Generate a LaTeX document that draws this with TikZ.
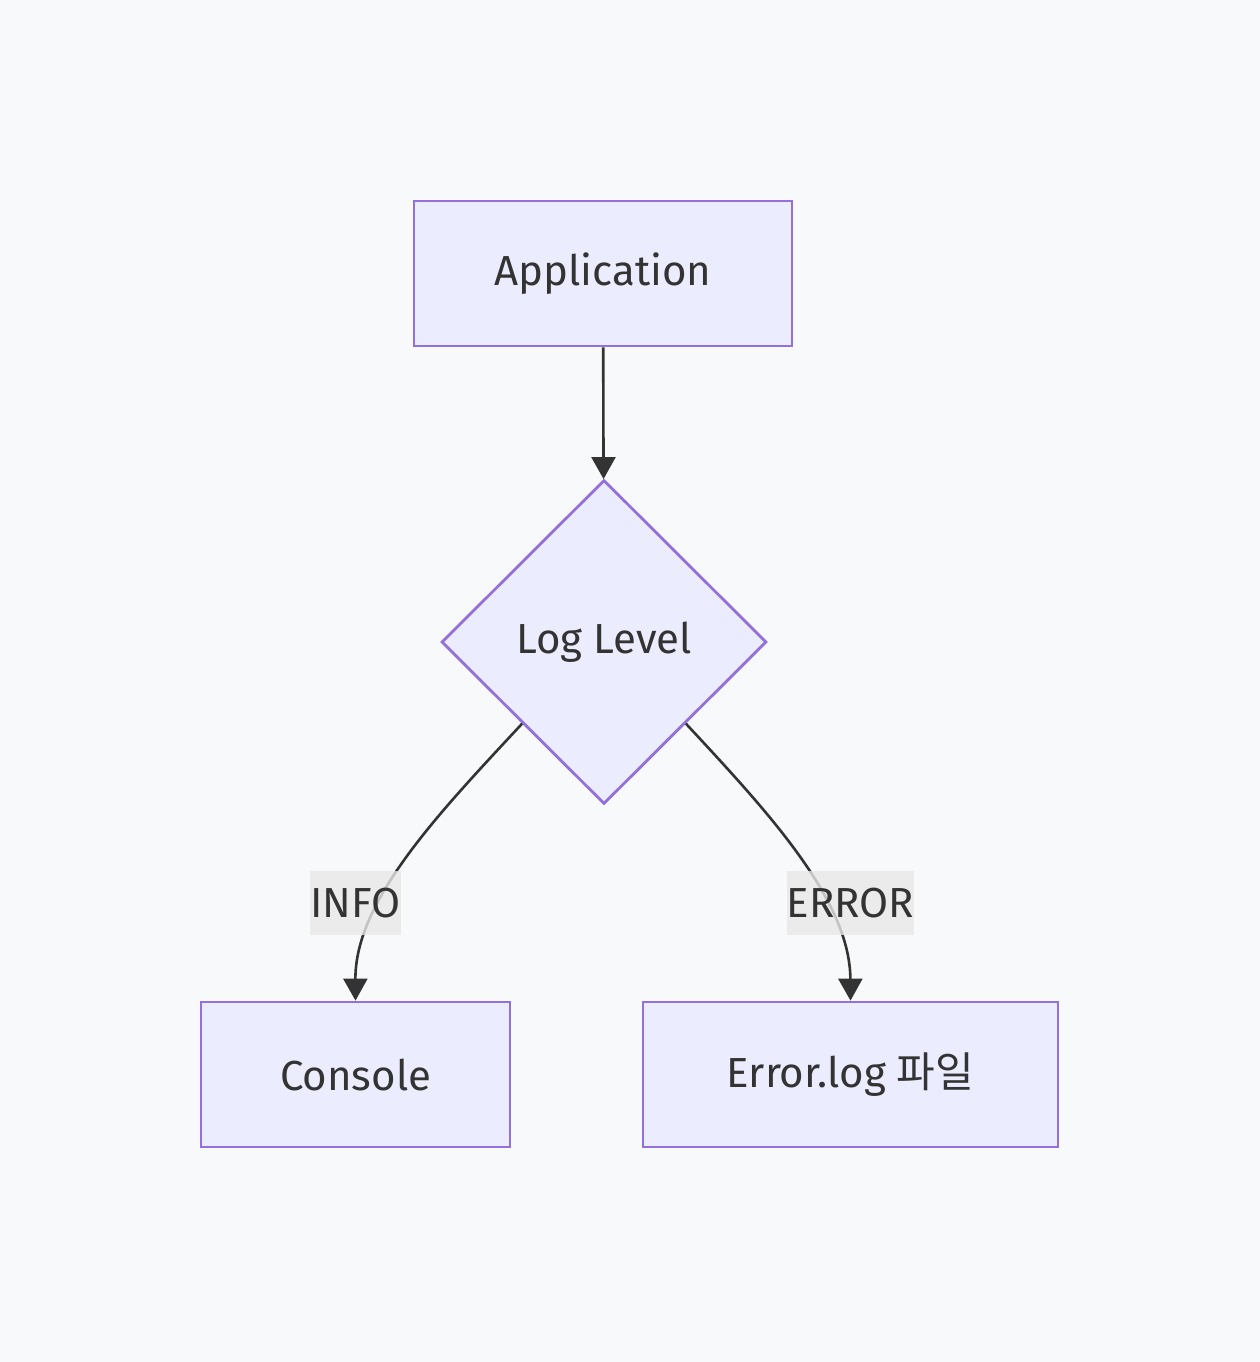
\documentclass[tikz,border=0pt]{standalone}
\usepackage{fontspec}
\setmainfont{Fira Sans}
\newfontfamily\cjk{Noto Sans CJK KR}
\usetikzlibrary{shapes.geometric,arrows.meta}
\definecolor{bgcol}{HTML}{F8F9FA}
\definecolor{nodefill}{HTML}{ECECFF}
\definecolor{nodeline}{HTML}{9370DB}
\definecolor{ink}{HTML}{333333}
\definecolor{lblfill}{HTML}{E8E8E8}
\begin{document}
\begin{tikzpicture}[x=0.5pt,y=-0.5pt,
    box/.style={draw=nodeline,fill=nodefill,line width=1.4pt,minimum height=72.5pt,inner sep=0pt,text=ink,font=\fontsize{21}{25}\selectfont},
    decision/.style={diamond,draw=nodeline,fill=nodefill,line width=1.4pt,minimum width=162.5pt,minimum height=162pt,inner sep=0pt,text=ink,font=\fontsize{21}{25}\selectfont},
    edge/.style={draw=ink,line width=1.3pt,-{Triangle[width=12pt,length=11pt]}},
    lbl/.style={fill=lblfill,fill opacity=0.8,text opacity=1,text=ink,minimum height=32pt,inner sep=0pt,font=\fontsize{21}{25}\selectfont}]
    \fill[bgcol] (0,0) rectangle (1260,1362);
    \useasboundingbox (0,0) rectangle (1260,1362);
    \node[box,minimum width=189pt] (app) at (603,273.5) {Application};
    \node[decision] (lvl) at (604,642) {Log Level};
    \node[box,minimum width=154.5pt] (con) at (355.5,1074.5) {Console};
    \node[box,minimum width=207.5pt] (err) at (850.5,1074.5) {Error.log {\cjk 파일}};
    \draw[edge] (app) -- (lvl);
    \draw[edge] (lvl.south west) .. controls (440,812) and (355,900) .. (con.north);
    \draw[edge] (lvl.south east) .. controls (768,812) and (850,900) .. (err.north);
    \node[lbl,minimum width=45.5pt] (info) at (355.5,903) {INFO};
    \node[lbl,minimum width=62.5pt] (error) at (850.5,903) {ERROR};
\end{tikzpicture}
\end{document}
